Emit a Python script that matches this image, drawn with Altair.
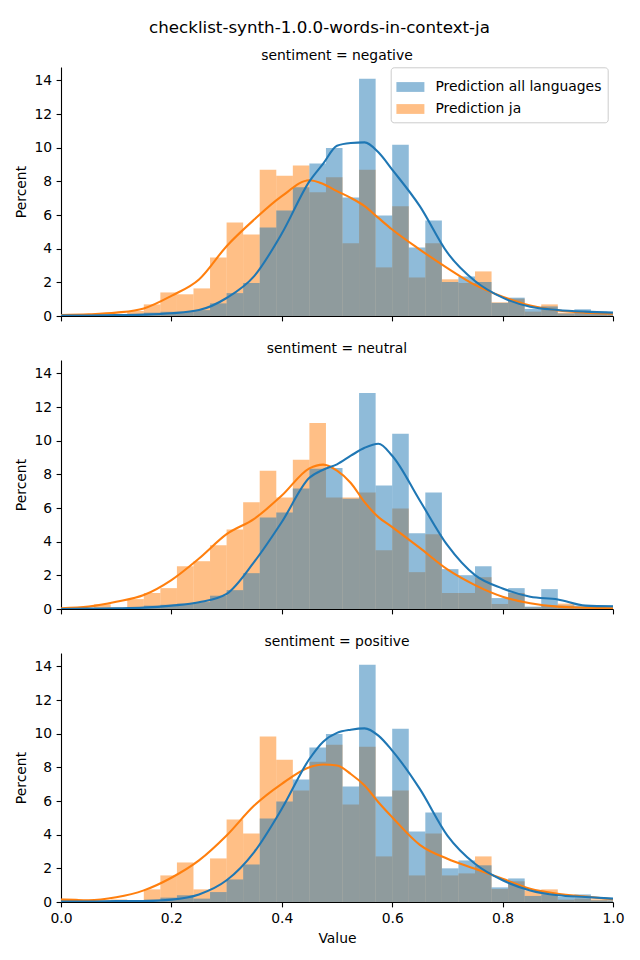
import altair as alt
import pandas as pd

TITLE = "checklist-synth-1.0.0-words-in-context-ja"
SENTIMENTS = ["negative", "neutral", "positive"]
SERIES = ["Prediction all languages", "Prediction ja"]
COLORS = ["#1f77b4", "#ff7f0e"]

# histogram bins (left edges), width 0.03
bin_start = [0.00, 0.03, 0.06, 0.09, 0.12, 0.15, 0.18, 0.21, 0.24, 0.27,
             0.30, 0.33, 0.36, 0.39, 0.42, 0.45, 0.48, 0.51, 0.54, 0.57,
             0.60, 0.63, 0.66, 0.69, 0.72, 0.75, 0.78, 0.81, 0.84, 0.87,
             0.90, 0.93, 0.96, 0.99]
bin_width = 0.03

# percent per bin
neg_all = [0.03, 0.03, 0.05, 0.05, 0.10, 0.20, 0.25, 0.25, 0.35, 0.75,
           1.36, 1.96, 5.26, 6.27, 7.65, 9.06, 9.99, 7.04, 14.10, 5.97,
           10.18, 4.07, 5.68, 2.02, 2.35, 2.02, 0.78, 1.09, 0.42, 0.57,
           0.15, 0.40, 0.26, 0.15]
neg_ja = [0.05, 0.05, 0.05, 0.05, 0.30, 0.69, 1.40, 1.29, 1.64, 3.48,
          5.56, 4.84, 8.70, 8.34, 8.94, 7.36, 8.25, 4.33, 8.70, 2.89,
          6.53, 2.29, 4.33, 2.18, 1.96, 2.65, 0.81, 1.03, 0.26, 0.69,
          0.20, 0.24, 0.20, 0.15]
neu_all = [0.02, 0.02, 0.05, 0.05, 0.10, 0.20, 0.25, 0.32, 0.41, 0.79,
           1.12, 2.13, 5.44, 5.74, 7.16, 8.34, 8.38, 6.55, 12.84, 7.34,
           10.41, 4.50, 6.92, 2.37, 2.01, 2.54, 0.65, 1.24, 0.14, 1.18,
           0.20, 0.20, 0.20, 0.20]
neu_ja = [0.05, 0.05, 0.28, 0.10, 0.59, 0.95, 1.24, 2.54, 2.84, 3.79,
          4.73, 6.35, 8.22, 6.63, 8.87, 11.06, 6.63, 6.63, 6.92, 3.49,
          5.98, 2.19, 4.44, 0.95, 0.95, 1.89, 0.30, 0.95, 0.10, 0.20,
          0.32, 0.10, 0.05, 0.05]
pos_all = [0.05, 0.03, 0.05, 0.05, 0.12, 0.14, 0.26, 0.40, 0.20, 0.59,
           1.34, 2.23, 4.96, 5.97, 7.28, 9.18, 9.99, 6.86, 14.10, 6.27,
           10.30, 4.19, 5.32, 2.00, 2.47, 2.18, 0.87, 1.40, 0.36, 0.45,
           0.30, 0.45, 0.10, 0.10]
pos_ja = [0.20, 0.05, 0.10, 0.15, 0.08, 0.75, 1.58, 2.35, 0.75, 2.59,
          4.90, 4.07, 9.83, 8.46, 6.62, 8.34, 9.35, 5.79, 9.23, 2.71,
          6.62, 1.58, 4.07, 1.58, 1.70, 2.71, 0.77, 1.23, 0.69, 0.75,
          0.14, 0.20, 0.16, 0.10]

# density curves (percent scale) read at these x positions
kde_x = [0.0, 0.05, 0.1, 0.15, 0.2, 0.25, 0.3, 0.35, 0.4, 0.45, 0.475, 0.5,
         0.525, 0.55, 0.575, 0.6, 0.65, 0.7, 0.75, 0.8, 0.85, 0.9, 0.95, 1.0]
neg_all_kde = [0.02, 0.03, 0.05, 0.08, 0.16, 0.35, 1.07, 2.37, 4.90, 8.00, 9.06, 10.12,
               10.28, 10.32, 9.73, 8.70, 6.53, 3.76, 2.08, 1.09, 0.55, 0.36, 0.26, 0.20]
neg_ja_kde = [0.06, 0.10, 0.20, 0.45, 1.20, 2.17, 4.15, 5.73, 7.12, 8.07, 7.85, 7.42,
              7.02, 6.53, 5.83, 5.14, 3.95, 2.85, 1.85, 1.15, 0.62, 0.33, 0.20, 0.14]
neu_all_kde = [0.00, 0.02, 0.04, 0.08, 0.20, 0.40, 0.90, 2.80, 5.17, 7.80, 8.28, 8.60,
               9.11, 9.58, 9.82, 9.11, 6.45, 3.79, 2.01, 1.22, 0.73, 0.57, 0.20, 0.16]
neu_ja_kde = [0.04, 0.14, 0.43, 0.83, 1.72, 3.00, 4.45, 5.36, 6.74, 8.36, 8.58, 8.22,
              7.49, 6.35, 5.46, 4.87, 3.63, 2.35, 1.42, 0.73, 0.34, 0.14, 0.08, 0.04]
pos_all_kde = [0.03, 0.03, 0.05, 0.06, 0.14, 0.45, 1.29, 2.97, 5.54, 8.50, 9.53, 10.05,
               10.24, 10.32, 9.89, 9.00, 6.72, 3.95, 2.27, 1.29, 0.69, 0.40, 0.30, 0.20]
pos_ja_kde = [0.14, 0.10, 0.28, 0.69, 1.44, 2.47, 3.95, 5.73, 7.02, 8.01, 8.17, 8.11,
              7.61, 6.92, 5.93, 5.04, 3.40, 2.57, 1.98, 1.38, 0.79, 0.49, 0.32, 0.16]

x_ticks = [0.0, 0.2, 0.4, 0.6, 0.8, 1.0]
y_ticks = [0, 2, 4, 6, 8, 10, 12, 14]

hist = {"negative": (neg_all, neg_ja), "neutral": (neu_all, neu_ja), "positive": (pos_all, pos_ja)}
kdes = {"negative": (neg_all_kde, neg_ja_kde), "neutral": (neu_all_kde, neu_ja_kde),
        "positive": (pos_all_kde, pos_ja_kde)}

FONT = "DejaVu Sans"
FS = 13.9

series_scale = alt.Scale(domain=SERIES, range=COLORS)
legend = alt.Legend(
    title=None, orient="none", legendX=329.7, legendY=0.3,
    symbolType="M-1,-0.35H1V0.35H-1Z", symbolSize=784, symbolOpacity=0.5,
    symbolStrokeWidth=0, labelFontSize=FS, labelFont=FONT, labelColor="black",
    labelOffset=11, labelLimit=400, rowPadding=1, padding=5.7,
    strokeColor="#cccccc", fillColor="rgba(255,255,255,0.8)", cornerRadius=3,
)


def hist_frame(series_name, values):
    return pd.DataFrame({
        "series": series_name,
        "start": bin_start,
        "end": [round(b + bin_width, 4) for b in bin_start],
        "pct": values,
    })


def panel(sent, bottom):
    all_v, ja_v = hist[sent]
    all_k, ja_k = kdes[sent]
    xscale = alt.Scale(domain=[0, 1], nice=False, zero=False)
    yscale = alt.Scale(domain=[0, 14.8], nice=False)
    if bottom:
        xaxis = alt.Axis(values=x_ticks, format=".1f", title="Value", labels=True,
                         titlePadding=6.5)
    else:
        xaxis = alt.Axis(values=x_ticks, format=".1f", title=None, labels=False)
    yaxis = alt.Axis(values=y_ticks, format="d", title="Percent", titlePadding=5)

    def bars(df):
        return alt.Chart(df).mark_rect(opacity=0.5, strokeWidth=0, clip=True).encode(
            x=alt.X("start:Q", scale=xscale, axis=xaxis),
            x2="end:Q",
            y=alt.Y("pct:Q", scale=yscale, axis=yaxis),
            y2=alt.datum(0),
            fill=alt.Fill("series:N", scale=series_scale, legend=legend),
        )

    def line(name, ys):
        df = pd.DataFrame({"series": name, "x": kde_x, "y": ys})
        return alt.Chart(df).mark_line(strokeWidth=2.08, interpolate="monotone", clip=True).encode(
            x=alt.X("x:Q", scale=xscale, axis=xaxis),
            y=alt.Y("y:Q", scale=yscale, axis=yaxis),
            stroke=alt.Stroke("series:N", scale=series_scale, legend=None),
        )

    layered = alt.layer(
        bars(hist_frame(SERIES[1], ja_v)),
        bars(hist_frame(SERIES[0], all_v)),
        line(SERIES[1], ja_k),
        line(SERIES[0], all_k),
    ).properties(
        width=552, height=249,
        title=alt.TitleParams(f"sentiment = {sent}", fontSize=FS, fontWeight="normal",
                              font=FONT, color="black", anchor="middle", offset=4),
    )
    return layered


chart = alt.vconcat(
    panel("negative", False),
    panel("neutral", False),
    panel("positive", True),
    spacing=44,
    bounds="flush",
).properties(
    title=alt.TitleParams(TITLE, fontSize=16.7, fontWeight="normal", font=FONT,
                          color="black", anchor="middle", offset=12),
    padding={"left": 14, "top": 19, "right": 5, "bottom": 5},
).configure(
    font=FONT,
).configure_view(
    stroke="transparent",
).configure_axis(
    grid=False,
    domainColor="black", domainWidth=1.1,
    tickColor="black", tickWidth=1.1, tickSize=4.9,
    labelColor="black", labelFontSize=FS, labelFont=FONT, labelPadding=4.5,
    labelFlush=False, labelOverlap=False,
    titleColor="black", titleFontSize=FS, titleFont=FONT, titleFontWeight="normal",
)

chart.save("out.html", embed_options={"renderer": "svg", "actions": False})
